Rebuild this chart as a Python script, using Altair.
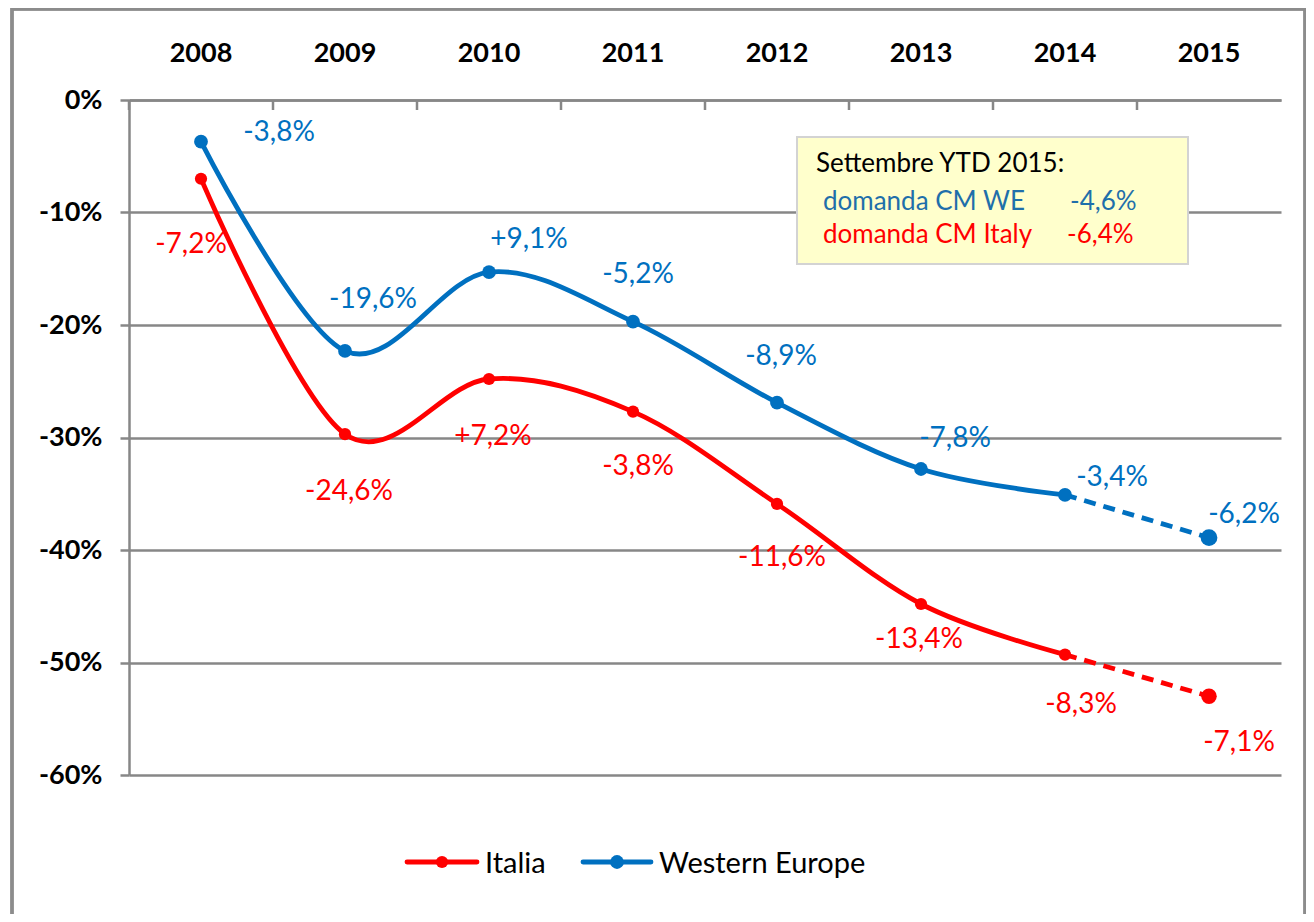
import altair as alt
import pandas as pd

# ---------------- data ----------------
years = ["2008", "2009", "2010", "2011", "2012", "2013", "2014", "2015"]
series = ["Italia", "Western Europe"]
italia_values = [-7.0, -29.7, -24.8, -27.7, -35.9, -44.8, -49.3, -53.0]
we_values = [-3.7, -22.3, -15.3, -19.7, -26.9, -32.8, -35.1, -38.9]
italia_labels = ["-7,2%", "-24,6%", "+7,2%", "-3,8%", "-11,6%", "-13,4%", "-8,3%", "-7,1%"]
we_labels = ["-3,8%", "-19,6%", "+9,1%", "-5,2%", "-8,9%", "-7,8%", "-3,4%", "-6,2%"]
y_ticks = [0, -10, -20, -30, -40, -50, -60]
note_title = "Settembre YTD  2015:"
note_names = ["domanda CM WE", "domanda CM Italy"]
note_values = ["-4,6%", "-6,4%"]

# label offsets (style, pixels)
italia_dx = [-10, 4, 4, 5, 5, -2, 16, 30]
italia_dy = [66, 58, 58, 55, 54, 36, 50, 47]
we_dx = [78, 28, 40, 5, 4, 34, 47, 35]
we_dy = [-9, -51, -32, -47, -46, -30, -17, -23]

RED = "#FF0000"
BLUE = "#0070C0"
NOTE_BLUE = "#1F6FAA"
GRAY = "#878787"
FONT = "Lato"

rows = []
for s, vals, labs in [("Italia", italia_values, italia_labels),
                      ("Western Europe", we_values, we_labels)]:
    for i, (y, v, l) in enumerate(zip(years, vals, labs)):
        rows.append({"series": s, "year": y, "idx": i, "value": v, "label": l})
df = pd.DataFrame(rows)
df_years = pd.DataFrame({"year": years})

xscale = alt.Scale(type="band", domain=years, paddingInner=0, paddingOuter=0)
xaxis = alt.Axis(orient="top", title=None, labelFont=FONT, labelFontWeight="bold",
                 labelFontSize=27, labelColor="black", labelPadding=33, ticks=False,
                 domainColor=GRAY, domainWidth=2.5, labelAngle=0, grid=False)
yscale = alt.Scale(domain=[-60, 0], nice=False, zero=False)
yaxis = alt.Axis(title=None, values=y_ticks, labelExpr="datum.value + '%'",
                 labelFont=FONT, labelFontWeight="bold", labelFontSize=27,
                 labelColor="black", labelPadding=18, tickSize=9, tickColor=GRAY,
                 tickWidth=2.5, domainColor=GRAY, domainWidth=2.5, grid=True,
                 gridColor=GRAY, gridWidth=2.5)


def X(bp=0.5):
    return alt.X("year:O", scale=xscale, axis=xaxis, bandPosition=bp)


def Y():
    return alt.Y("value:Q", scale=yscale, axis=yaxis)


color_of = {"Italia": RED, "Western Europe": BLUE}
point_size = {"Italia": 150, "Western Europe": 190}
base = alt.Chart(df)

layers = []
# inward ticks at band edges on top axis
layers.append(alt.Chart(df_years).mark_rule(color=GRAY, strokeWidth=2.5).encode(
    x=X(0), y=alt.value(0), y2=alt.value(10)))

for s in series:
    c = color_of[s]
    layers.append(base.transform_filter(
        f"datum.series == '{s}' && datum.idx <= 6").mark_line(
        color=c, strokeWidth=4.8, interpolate="cardinal", strokeCap="round").encode(
        x=X(), y=Y(), order="idx:Q"))
    layers.append(base.transform_filter(
        f"datum.series == '{s}' && datum.idx >= 6").mark_line(
        color=c, strokeWidth=4.8, strokeDash=[12, 8]).encode(
        x=X(), y=Y(), order="idx:Q"))
    layers.append(base.transform_filter(f"datum.series == '{s}'").mark_circle(
        color=c, opacity=1).encode(
        x=X(), y=Y(),
        size=alt.condition("datum.idx == 7", alt.value(point_size[s] + 90),
                           alt.value(point_size[s]))))

for s, dxs, dys in [("Italia", italia_dx, italia_dy), ("Western Europe", we_dx, we_dy)]:
    for i in range(len(years)):
        layers.append(base.transform_filter(
            f"datum.series == '{s}' && datum.idx == {i}").mark_text(
            font=FONT, fontSize=28, color=color_of[s], dx=dxs[i], dy=dys[i],
            align="center", baseline="middle").encode(x=X(), y=Y(), text="label:N"))

# outer frame
layers.append(alt.Chart(df_years).mark_rect(
    fill=None, stroke="#8C8C8C", strokeWidth=2.5).encode(
    x=alt.value(-117), x2=alt.value(1176), y=alt.value(-91), y2=alt.value(840)))

# note box
note_df = pd.DataFrame({"t": [note_title]})
layers.append(alt.Chart(note_df).mark_rect(
    fill="#FFFFCC", stroke="#D3D3D3", strokeWidth=2).encode(
    x=alt.value(668), x2=alt.value(1059), y=alt.value(37), y2=alt.value(164)))
layers.append(alt.Chart(note_df).mark_text(
    font=FONT, fontSize=26, color="black", align="left", baseline="middle").encode(
    x=alt.value(687), y=alt.value(64), text="t:N"))
for name, val, col, yy, xv in [(note_names[0], note_values[0], NOTE_BLUE, 102, 941),
                               (note_names[1], note_values[1], RED, 135, 938)]:
    ndf = pd.DataFrame({"n": [name], "v": [val]})
    layers.append(alt.Chart(ndf).mark_text(
        font=FONT, fontSize=26, color=col, align="left", baseline="middle").encode(
        x=alt.value(694), y=alt.value(yy), text="n:N"))
    layers.append(alt.Chart(ndf).mark_text(
        font=FONT, fontSize=26, color=col, align="left", baseline="middle").encode(
        x=alt.value(xv), y=alt.value(yy), text="v:N"))

# legend
for s, x1, x2, xt in [("Italia", 278, 348, 356), ("Western Europe", 454, 522, 530)]:
    ldf = pd.DataFrame({"s": [s]})
    c = color_of[s]
    layers.append(alt.Chart(ldf).mark_rule(color=c, strokeWidth=4.8, strokeCap="round").encode(
        x=alt.value(x1), x2=alt.value(x2), y=alt.value(762)))
    layers.append(alt.Chart(ldf).mark_circle(color=c, opacity=1,
                                             size=point_size[s]).encode(
        x=alt.value((x1 + x2) / 2), y=alt.value(762)))
    layers.append(alt.Chart(ldf).mark_text(
        font=FONT, fontSize=29, color="black", align="left", baseline="middle").encode(
        x=alt.value(xt), y=alt.value(764), text="s:N"))

chart = alt.layer(*layers).properties(
    width=1152, height=675,
    autosize=alt.AutoSizeParams(type="none"),
    padding={"left": 121, "top": 92, "right": 25, "bottom": 139},
    background="white",
).configure_view(stroke=None)

chart.save("out.html", embed_options={"renderer": "svg", "actions": False})
